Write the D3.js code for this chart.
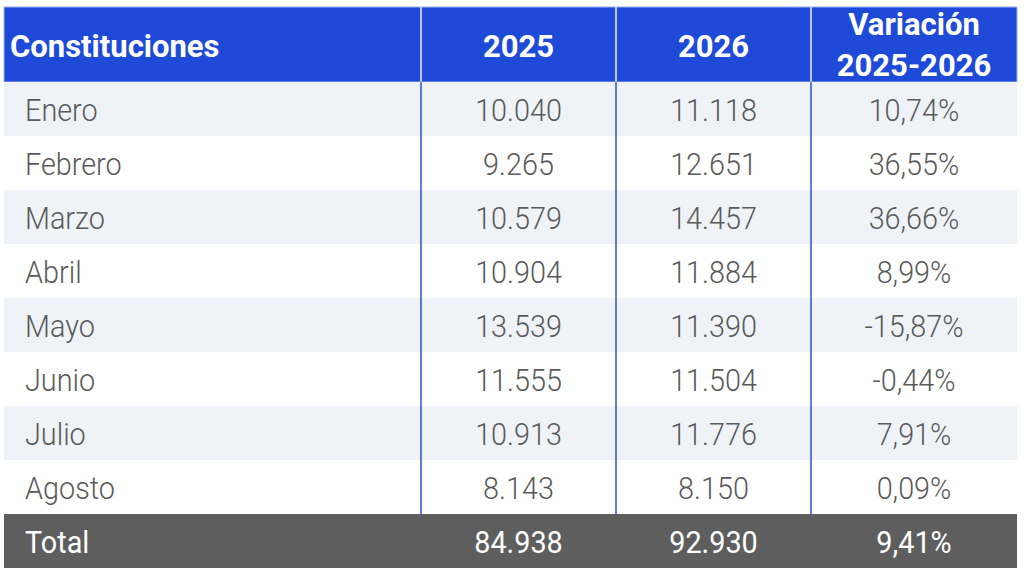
<!DOCTYPE html>
<html>
<head>
<meta charset="utf-8">
<script src="https://cdn.jsdelivr.net/npm/d3@7"></script>
<style>
  body { margin: 0; background: #ffffff; }
  svg { display: block; }
</style>
</head>
<body>
<div id="tabla"></div>
<script>
// datos de la tabla
var meses = ["Enero", "Febrero", "Marzo", "Abril", "Mayo", "Junio", "Julio", "Agosto"];
var valores2025 = [10040, 9265, 10579, 10904, 13539, 11555, 10913, 8143];
var valores2026 = [11118, 12651, 14457, 11884, 11390, 11504, 11776, 8150];
var variacion = [10.74, 36.55, 36.66, 8.99, -15.87, -0.44, 7.91, 0.09];
var totales = { etiqueta: "Total", v2025: 84938, v2026: 92930, variacion: 9.41 };
var cabeceras = ["Constituciones", "2025", "2026", ["Variación", "2025-2026"]];

var W = 1024, H = 577;
var tLeft = 4, tRight = 1017, tTop = 7, headH = 75, rowH = 54;
// bordes de columnas
var cortes = [tLeft, 421, 616, 811, tRight];

var fmtNum = d3.formatLocale({ decimal: ",", thousands: ".", grouping: [3] }).format(",d");
var fmtPct = d3.formatLocale({ decimal: ",", thousands: ".", grouping: [3], minus: "-" }).format(".2f");

var filas = meses.map(function(m, i) {
  return [m, fmtNum(valores2025[i]), fmtNum(valores2026[i]), fmtPct(variacion[i]) + "%"];
});
var filaTotal = [totales.etiqueta, fmtNum(totales.v2025), fmtNum(totales.v2026), fmtPct(totales.variacion) + "%"];

var y = d3.scaleBand()
  .domain(d3.range(filas.length + 1))
  .range([tTop + headH, tTop + headH + rowH * (filas.length + 1)])
  .padding(0);

var svg = d3.select("#tabla").append("svg")
  .attr("width", W)
  .attr("height", H);

// cabecera
svg.append("rect")
  .attr("x", tLeft).attr("y", tTop)
  .attr("width", tRight - tLeft).attr("height", headH)
  .attr("fill", "#1f4ad8")
  .attr("stroke", "#9fb2ee").attr("stroke-width", 1);

cortes.slice(1, 4).forEach(function(cx) {
  svg.append("line")
    .attr("x1", cx).attr("x2", cx)
    .attr("y1", tTop).attr("y2", tTop + headH)
    .attr("stroke", "#b9c7f2").attr("stroke-width", 2);
});

function centro(c) { return (cortes[c] + cortes[c + 1]) / 2; }

cabeceras.forEach(function(h, c) {
  var t = svg.append("text")
    .attr("fill", "#ffffff")
    .attr("font-family", "Roboto, 'Noto Sans', sans-serif")
    .attr("font-weight", 700)
    .attr("font-size", 31);
  if (c === 0) {
    t.attr("x", 10).attr("y", 57).attr("text-anchor", "start").text(h);
  } else if (Array.isArray(h)) {
    t.attr("text-anchor", "middle");
    t.append("tspan").attr("x", centro(c)).attr("y", 35).text(h[0]);
    t.append("tspan").attr("x", centro(c)).attr("y", 76).text(h[1]);
  } else {
    t.attr("x", centro(c)).attr("y", 57).attr("text-anchor", "middle").text(h);
  }
});

// filas
var g = svg.selectAll("g.fila")
  .data(filas.concat([filaTotal]))
  .enter().append("g")
  .attr("class", "fila")
  .attr("transform", function(d, i) { return "translate(0," + y(i) + ")"; });

g.append("rect")
  .attr("x", tLeft)
  .attr("width", tRight - tLeft)
  .attr("height", y.bandwidth())
  .attr("fill", function(d, i) {
    if (i === filas.length) return "#5e5e5e";
    return i % 2 === 0 ? "#eff2f7" : "#ffffff";
  });

// lineas verticales azules
cortes.slice(1, 4).forEach(function(cx) {
  svg.append("line")
    .attr("x1", cx).attr("x2", cx)
    .attr("y1", y(0)).attr("y2", y(filas.length))
    .attr("stroke", "#2a52d6").attr("stroke-width", 1.5);
});

g.each(function(d, i) {
  var esTotal = i === filas.length;
  var sel = d3.select(this);
  d.forEach(function(txt, c) {
    var x = c === 0 ? 25 : centro(c);
    sel.append("text")
      .attr("transform", "translate(" + x + "," + (y.bandwidth() / 2 + 12) + ") scale(0.9,1)")
      .attr("text-anchor", c === 0 ? "start" : "middle")
      .attr("font-family", "Roboto, 'Noto Sans', sans-serif")
      .attr("font-weight", esTotal ? 400 : 300)
      .attr("font-size", 32)
      .attr("fill", esTotal ? "#ffffff" : "#5a5a5a")
      .text(txt);
  });
});
</script>
</body>
</html>
